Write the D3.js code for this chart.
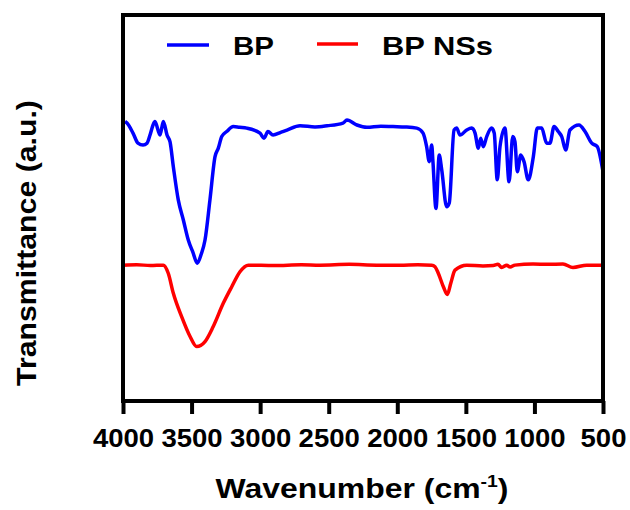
<!DOCTYPE html>
<html>
<head>
<meta charset="utf-8">
<script src="https://cdn.jsdelivr.net/npm/d3@7"></script>
<style>
  html, body { margin: 0; padding: 0; background: #fff; }
  svg { display: block; font-family: "Liberation Sans", Arial, sans-serif; }
</style>
</head>
<body>
<svg id="chart" width="630" height="510"></svg>
<script>
// ---- Data ----
const xTicks = [4000, 3500, 3000, 2500, 2000, 1500, 1000, 500];
const seriesNames = ["BP", "BP NSs"];
const seriesColors = ["#0000ff", "#ff0000"];

// BP spectrum: wavenumber (cm^-1), transmittance (a.u.)
const bpWavenumber = [3985, 3971, 3927, 3891, 3854, 3825, 3803, 3781, 3767, 3730, 3706, 3679, 3657, 3633, 3597, 3560, 3524, 3490, 3458, 3430, 3402, 3366, 3329, 3305, 3280, 3244, 3196, 3150, 3098, 3001, 2972, 2943, 2906, 2850, 2804, 2709, 2600, 2512, 2396, 2367, 2294, 2221, 2120, 2031, 1940, 1858, 1812, 1786, 1767, 1749, 1740, 1718, 1694, 1676, 1640, 1621, 1586, 1567, 1543, 1494, 1457, 1433, 1409, 1392, 1373, 1348, 1312, 1293, 1271, 1251, 1215, 1185, 1158, 1142, 1125, 1100, 1076, 1045, 1008, 979, 947, 911, 887, 857, 826, 801, 772, 741, 675, 631, 582, 542, 500];
const bpValue = [72.4, 72.0, 69.4, 66.8, 66.3, 66.8, 68.9, 71.5, 72.4, 68.9, 72.4, 68.9, 67.1, 60.7, 52.1, 46.9, 41.7, 38.5, 35.7, 38.0, 41.7, 52.1, 63.3, 65.5, 68.5, 69.8, 71.1, 70.9, 70.7, 69.4, 68.1, 69.8, 68.9, 69.6, 70.2, 71.3, 71.0, 71.3, 72.0, 72.8, 71.5, 70.9, 71.2, 71.1, 71.0, 70.7, 69.4, 65.9, 62.0, 66.3, 62.0, 49.9, 63.7, 59.9, 50.3, 51.3, 70.2, 70.7, 68.9, 70.2, 70.7, 69.4, 65.5, 68.1, 65.9, 68.5, 70.7, 69.4, 57.3, 65.9, 70.7, 56.8, 68.5, 67.2, 59.4, 63.7, 62.0, 57.3, 63.3, 70.7, 70.7, 66.8, 66.8, 71.1, 69.8, 68.5, 65.0, 70.2, 71.5, 69.8, 66.8, 65.9, 59.4];

// BP NSs spectrum
const nsWavenumber = [3998, 3900, 3800, 3706, 3670, 3633, 3572, 3511, 3463, 3402, 3342, 3269, 3207, 3147, 3086, 2900, 2700, 2564, 2350, 2150, 1980, 1850, 1749, 1725, 1701, 1664, 1635, 1610, 1579, 1494, 1375, 1300, 1266, 1239, 1202, 1178, 1142, 1010, 900, 792, 719, 619, 510];
const nsValue = [35.2, 35.3, 35.1, 35.2, 33.1, 27.9, 21.8, 16.7, 14.1, 15.4, 19.3, 25.3, 29.6, 33.5, 35.2, 35.1, 35.3, 35.2, 35.4, 35.2, 35.2, 35.3, 35.2, 34.8, 33.1, 29.6, 27.6, 30.5, 33.9, 35.2, 35.0, 35.1, 35.4, 34.6, 35.2, 34.7, 35.2, 35.5, 35.4, 35.5, 34.6, 35.2, 35.2];

// ---- Layout ----
const svg = d3.select("#chart");
const L = 123, R = 603, T = 15, B = 401;

const x = d3.scaleLinear().domain([4000, 500]).range([L, R]);
const y = d3.scaleLinear().domain([0, 100]).range([B, T]);

// stretch a text horizontally to a target width
function fitWidth(sel, target) {
  const w = sel.node().getBBox().width;
  return w > 0 ? target / w : 1;
}

// x axis ticks
const xAxis = d3.axisBottom(x).tickValues(xTicks).tickFormat(d3.format("d"))
  .tickSizeInner(13).tickSizeOuter(0).tickPadding(4);
const gx = svg.append("g").attr("transform", `translate(0,${B})`).call(xAxis);
gx.select(".domain").remove();
gx.selectAll(".tick line").attr("stroke", "#000").attr("stroke-width", 4);
gx.selectAll(".tick text")
  .attr("fill", "#000")
  .attr("font-size", 26).attr("font-weight", "bold")
  .attr("font-family", "Liberation Sans, Arial, sans-serif")
  .attr("dy", null).attr("y", 46)
  .attr("textLength", d => String(d).length * 15.3).attr("lengthAdjust", "spacingAndGlyphs");

// curves
const line = d3.line().x(d => x(d[0])).y(d => y(d[1])).curve(d3.curveMonotoneX);
const bpData = bpWavenumber.map((w, i) => [w, bpValue[i]]);
const nsData = nsWavenumber.map((w, i) => [w, nsValue[i]]);

svg.append("path").datum(nsData).attr("d", line)
  .attr("fill", "none").attr("stroke", seriesColors[1]).attr("stroke-width", 3.5)
  .attr("stroke-linejoin", "round");
svg.append("path").datum(bpData).attr("d", line)
  .attr("fill", "none").attr("stroke", seriesColors[0]).attr("stroke-width", 3.5)
  .attr("stroke-linejoin", "round");

// frame
svg.append("rect").attr("x", L).attr("y", T).attr("width", R - L).attr("height", B - T)
  .attr("fill", "none").attr("stroke", "#000").attr("stroke-width", 4);

// legend
const legendItems = [
  { name: seriesNames[0], color: seriesColors[0], x0: 167, x1: 209, tx: 233, tw: 41, ly: 45 },
  { name: seriesNames[1], color: seriesColors[1], x0: 317, x1: 358, tx: 382, tw: 111, ly: 44 }
];
legendItems.forEach(it => {
  const t = svg.append("text").attr("x", 0).attr("y", 0).text(it.name)
    .attr("font-size", 25).attr("font-weight", "bold").attr("fill", "#000");
  const s = fitWidth(t, it.tw);
  t.attr("transform", `translate(${it.tx},55) scale(${s},1)`);
  svg.append("line").attr("x1", it.x0).attr("x2", it.x1).attr("y1", it.ly).attr("y2", it.ly)
    .attr("stroke", it.color).attr("stroke-width", 3.5);
});

// x axis title
const xt = svg.append("text").attr("x", 0).attr("y", 0).attr("text-anchor", "middle")
  .attr("font-size", 28).attr("font-weight", "bold").attr("fill", "#000");
xt.append("tspan").text("Wavenumber (cm");
xt.append("tspan").text("-1").attr("font-size", 17).attr("dy", -11);
xt.append("tspan").text(")").attr("dy", 11);
const sx = fitWidth(xt, 293);
xt.attr("transform", `translate(362,498) scale(${sx},1)`);

// y axis title
const yt = svg.append("text").attr("x", 0).attr("y", 0)
  .attr("text-anchor", "middle").attr("font-size", 28).attr("font-weight", "bold")
  .attr("fill", "#000").text("Transmittance (a.u.)");
const sy = fitWidth(yt, 286);
yt.attr("transform", `translate(36,243) rotate(-90) scale(${sy},1)`);
</script>
</body>
</html>
